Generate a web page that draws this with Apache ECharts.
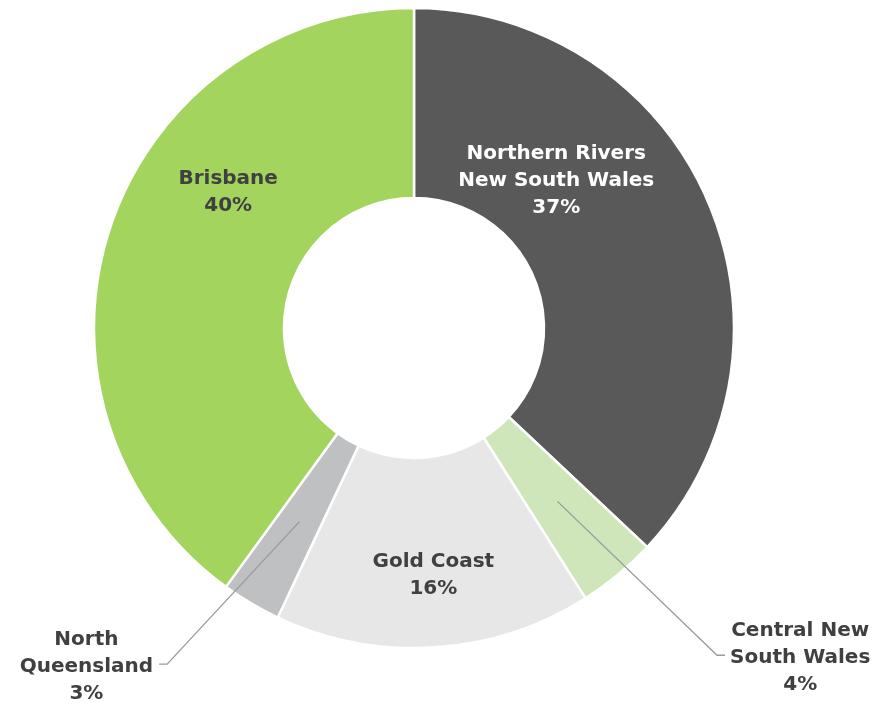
<!DOCTYPE html>
<html>
<head>
<meta charset="utf-8">
<script src="https://cdn.jsdelivr.net/npm/echarts@6/dist/echarts.min.js"></script>
<style>html,body{margin:0;padding:0;background:#fff}#c{width:872px;height:704px}</style>
</head>
<body>
<div id="c"></div>
<script>
const names = ['Northern Rivers\nNew South Wales', 'Central New\nSouth Wales', 'Gold Coast', 'North\nQueensland', 'Brisbane'];
const values = [37, 4, 16, 3, 40];
const colors = ['#595959', '#cee6b9', '#e7e7e7', '#bfc0c2', '#a2d45e'];
const textColors = ['#ffffff', '#404040', '#404040', '#404040', '#404040'];
const insideLabel = [true, false, true, false, true];
const labelOffsets = [[-67, -57], [0, 0], [5, 20], [0, 0], [31, -65]];
// leader-line bend: radius from centre and angle tweak (degrees) relative to slice mid-angle
const bends = [null, { r: 446, da: -3.2 }, null, { r: 417, da: 5.7 }, null];

const cx = 414, cy = 328, rIn = 130, rOut = 320;
const font = { fontFamily: '"DejaVu Sans", sans-serif', fontWeight: 'bold', fontSize: 20, lineHeight: 27 };

const total = values.reduce((a, b) => a + b, 0);
const midAngles = [];
{ let acc = 0; values.forEach(v => { midAngles.push((acc + v / 2) / total * 360); acc += v; }); }

const baseData = names.map((n, i) => ({
  name: n,
  value: values[i],
  itemStyle: { color: colors[i] },
  label: insideLabel[i]
    ? Object.assign({ show: true, position: 'inside', color: textColors[i], offset: labelOffsets[i] }, font)
    : { show: false },
  labelLine: { show: false }
}));

const overlayData = names.map((n, i) => ({
  name: n,
  value: values[i],
  label: insideLabel[i] ? { show: false } : Object.assign({ show: true, position: 'outside', color: textColors[i] }, font),
  labelLine: { show: !insideLabel[i] }
}));

const chart = echarts.init(document.getElementById('c'), null, { renderer: 'canvas' });
chart.setOption({
  animation: false,
  series: [{
    type: 'pie',
    z: 2,
    center: [cx, cy],
    radius: [rIn, rOut],
    startAngle: 90,
    clockwise: true,
    avoidLabelOverlap: false,
    silent: true,
    itemStyle: { borderColor: '#ffffff', borderWidth: 2.5 },
    label: { formatter: p => p.name + '\n' + p.value + '%', align: 'center' },
    data: baseData
  }, {
    type: 'pie',
    z: 5,
    center: [cx, cy],
    radius: [rIn, rOut],
    startAngle: 90,
    clockwise: true,
    avoidLabelOverlap: false,
    silent: true,
    itemStyle: { color: 'rgba(0,0,0,0)', borderWidth: 0 },
    label: { formatter: p => p.name + '\n' + p.value + '%', align: 'center' },
    labelLine: { show: true, length: 100, length2: 8, lineStyle: { color: '#9a9a9a', width: 1.3 } },
    labelLayout: function (p) {
      const i = p.dataIndex;
      if (insideLabel[i]) return {};
      const b = bends[i];
      const am = midAngles[i] * Math.PI / 180;
      const rm = (rIn + rOut) / 2;
      const s = [cx + rm * Math.sin(am), cy - rm * Math.cos(am)];
      const ab = (midAngles[i] + b.da) * Math.PI / 180;
      const bend = [cx + b.r * Math.sin(ab), cy - b.r * Math.cos(ab)];
      const right = bend[0] > cx;
      const end = [bend[0] + (right ? 8 : -8), bend[1]];
      const w = p.labelRect.width;
      return {
        x: right ? end[0] + 5 + w / 2 : end[0] - 6 - w / 2,
        y: end[1] + 3,
        align: 'center',
        verticalAlign: 'middle',
        labelLinePoints: [s, bend, end]
      };
    },
    data: overlayData
  }]
});
</script>
</body>
</html>
